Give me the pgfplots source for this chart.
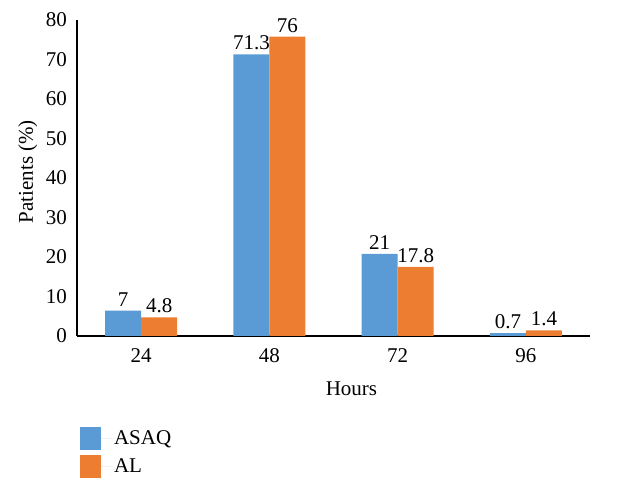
\documentclass[border=0pt]{standalone}
\usepackage{fontspec}
\setmainfont{Liberation Serif}
\usepackage{pgfplots}
\pgfplotsset{compat=1.18}
\definecolor{cblue}{HTML}{5B9BD5}
\definecolor{corange}{HTML}{ED7D31}
\begin{document}
\begin{tikzpicture}
\begin{axis}[
  at={(77bp,156bp)}, anchor=south west,
  scale only axis, width=513bp, height=316bp,
  xmin=-0.5, xmax=3.5, ymin=0, ymax=80,
  axis x line=bottom, axis y line=left,
  axis line style={-, black, line width=1.2bp},
  xtick={0,1,2,3}, xticklabels={24,48,72,96},
  ytick={0,10,...,80},
  /pgf/number format/assume math mode=true,
  major tick length=0pt,
  tick label style={inner sep=0pt, font=\fontsize{21bp}{25bp}\selectfont},
  yticklabel style={xshift=-10bp},
  xticklabel style={yshift=-12bp},
  label style={font=\fontsize{21bp}{25bp}\selectfont},
  xlabel={Hours},
  xlabel style={at={(axis description cs:0.535,0)}, anchor=base, yshift=-59bp},
  ylabel={Patients (\%)},
  ylabel style={at={(axis description cs:-0.0858,0.52)}, anchor=base, rotate=0},
  ybar=0pt, bar width=36bp,
  nodes near coords, point meta=explicit symbolic,
  every node near coord/.append style={font=\fontsize{21bp}{25bp}\selectfont, inner sep=1bp, yshift=3bp},
  legend style={at={(axis description cs:0.006,-0.288)}, anchor=north west, draw=none, fill=none,
    inner sep=0pt, outer sep=0pt, row sep=5bp, cells={anchor=west}, nodes={inner sep=1bp},
    font=\fontsize{21bp}{25bp}\selectfont},
  legend image code/.code={\fill[#1] (0bp,-11.5bp) rectangle (21bp,11.5bp); \path (0bp,0bp) -- (33bp,0bp);},
]
\addplot[fill=cblue, draw=none] coordinates {(0,6.4) [7] (1,71.3) [71.3] (2,20.8) [21] (3,0.7) [0.7]};
\addplot[fill=corange, draw=none] coordinates {(0,4.7) [4.8] (1,75.8) [76] (2,17.5) [17.8] (3,1.4) [1.4]};
\legend{ASAQ, AL}
\end{axis}
\pgfresetboundingbox
\path[use as bounding box] (0,0) rectangle (641bp,492bp);
\end{tikzpicture}
\end{document}
